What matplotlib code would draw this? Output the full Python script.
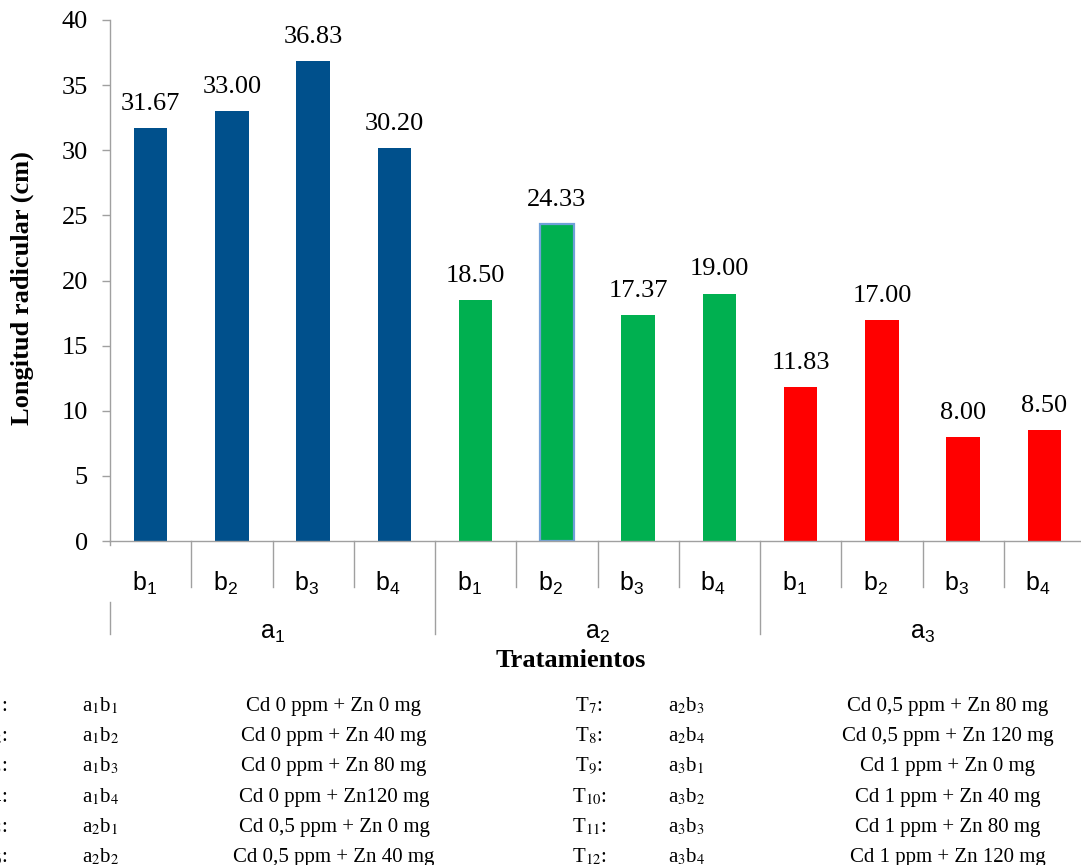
import matplotlib
matplotlib.use("Agg")
import matplotlib.pyplot as plt

# ---- data -------------------------------------------------------------
level_b = ["b$_1$", "b$_2$", "b$_3$", "b$_4$"]
level_a = ["a$_1$", "a$_2$", "a$_3$"]
values = [31.67, 33.00, 36.83, 30.20,
          18.50, 24.33, 17.37, 19.00,
          11.83, 17.00, 8.00, 8.50]
group_colors = ["#00508C", "#00B050", "#FF0000"]

codes = ["T$_{%d}$:" % i for i in range(1, 13)]
combos = ["a$_1$b$_1$", "a$_1$b$_2$", "a$_1$b$_3$", "a$_1$b$_4$",
          "a$_2$b$_1$", "a$_2$b$_2$", "a$_2$b$_3$", "a$_2$b$_4$",
          "a$_3$b$_1$", "a$_3$b$_2$", "a$_3$b$_3$", "a$_3$b$_4$"]
descriptions = ["Cd 0 ppm + Zn 0 mg", "Cd 0 ppm + Zn 40 mg",
                "Cd 0 ppm + Zn 80 mg", "Cd 0 ppm + Zn120 mg",
                "Cd 0,5 ppm + Zn 0 mg", "Cd 0,5 ppm + Zn 40 mg",
                "Cd 0,5 ppm + Zn 80 mg", "Cd 0,5 ppm + Zn 120 mg",
                "Cd 1 ppm + Zn 0 mg", "Cd 1 ppm + Zn 40 mg",
                "Cd 1 ppm + Zn 80 mg", "Cd 1 ppm + Zn 120 mg"]

# ---- fonts ------------------------------------------------------------
plt.rcParams["mathtext.fontset"] = "custom"
plt.rcParams["mathtext.rm"] = "Liberation Sans"
plt.rcParams["mathtext.it"] = "Liberation Sans"
SERIF = "Liberation Serif"
SANS = "Liberation Sans"

W, H = 1081, 865
fig = plt.figure(figsize=(W / 100, H / 100), dpi=100)


def fx(px):
    return px / W


def fy(py):
    return 1 - py / H


AX_L, AX_T, AX_B, AX_R = 110, 20, 541, 1085
ax = fig.add_axes([fx(AX_L), fy(AX_B), (AX_R - AX_L) / W, (AX_B - AX_T) / H])
ax_h = AX_B - AX_T


def ay(py):
    """pixel row -> axes fraction (for text/lines below the axis)"""
    return (AX_B - py) / ax_h


n = len(values)
xs = list(range(n))
colors = [group_colors[i // 4] for i in xs]
edgecolors = ["none"] * n
lws = [0] * n
edgecolors[5] = "#6FA0D8"
lws[5] = 1.6

ax.bar(xs, values, width=0.41, color=colors, edgecolor=edgecolors,
       linewidth=lws, zorder=2)

for x, v in zip(xs, values):
    ax.annotate(f"{v:.2f}", (x, v), xytext=(0, 13), textcoords="offset points",
                ha="center", va="baseline", fontsize=19, family=SERIF)

ax.set_xlim(-0.5, n - 0.5)
ax.set_ylim(0, 40)
ax.set_yticks(range(0, 41, 5))
ax.set_xticks([])
ax.tick_params(axis="y", direction="out", length=6, width=1, color="#A0A0A0",
               pad=10, labelsize=19)
for lab in ax.get_yticklabels():
    lab.set_family(SERIF)
for s in ["top", "right"]:
    ax.spines[s].set_visible(False)
for s in ["left", "bottom"]:
    ax.spines[s].set_color("#A0A0A0")
    ax.spines[s].set_linewidth(1)

# category separators
xt = ax.get_xaxis_transform()
sep_kw = dict(transform=xt, clip_on=False, color="#A0A0A0", lw=1)
for k in range(n):
    xb = k - 0.5
    if k == 0:
        ax.plot([xb, xb], [0, ay(545)], **sep_kw)
        ax.plot([xb, xb], [ay(602), ay(634)], **sep_kw)
    elif k % 4 == 0:
        ax.plot([xb, xb], [0, ay(634)], **sep_kw)
    else:
        ax.plot([xb, xb], [0, ay(587)], **sep_kw)

for x in xs:
    ax.text(x - 0.08, ay(591), level_b[x % 4], transform=xt, ha="center",
            va="baseline", fontsize=18, family=SANS, math_fontfamily="custom")
for g, lab in enumerate(level_a):
    ax.text(4 * g + 1.5, ay(639), lab, transform=xt, ha="center",
            va="baseline", fontsize=18, family=SANS, math_fontfamily="custom")

fig.text(fx(571), fy(667), "Tratamientos", ha="center", va="baseline",
         fontsize=19, fontweight="bold", family=SERIF)
fig.text(fx(22), fy(288), "Longitud radicular (cm)", rotation=90,
         ha="center", va="center", fontsize=19, fontweight="bold",
         family=SERIF)

# treatment key below the chart
row_y = [711, 741, 771, 802, 832, 862]
txt_kw = dict(va="baseline", fontsize=15, family=SERIF, math_fontfamily="stix")
for i in range(12):
    col = i // 6
    yb = fy(row_y[i % 6])
    if col == 0:
        fig.text(fx(7), yb, codes[i], ha="right", **txt_kw)
        fig.text(fx(82), yb, combos[i], ha="left", **txt_kw)
        fig.text(fx(334), yb, descriptions[i], ha="center", **txt_kw)
    else:
        fig.text(fx(589), yb, codes[i], ha="center", **txt_kw)
        fig.text(fx(668), yb, combos[i], ha="left", **txt_kw)
        fig.text(fx(948), yb, descriptions[i], ha="center", **txt_kw)

fig.savefig("out.png", dpi=100)
